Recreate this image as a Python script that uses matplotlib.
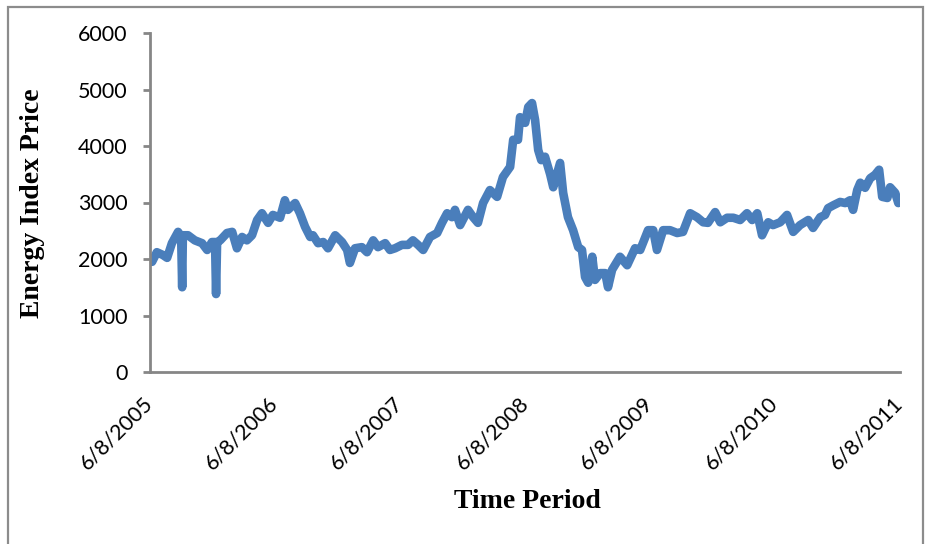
import matplotlib
matplotlib.use('Agg')
from matplotlib import pyplot as plt
from matplotlib.patches import Rectangle
import numpy as np
import pandas as pd

plt.rcParams['font.family'] = ['Lato', 'DejaVu Sans']

# energy index closing levels, read at roughly weekly steps
dates = [
    '2005-06-14', '2005-06-28', '2005-07-16', '2005-07-28', '2005-08-11', '2005-08-29',
    '2005-09-07', '2005-09-10', '2005-09-12', '2005-09-27', '2005-10-17', '2005-11-07',
    '2005-11-22', '2005-12-06', '2005-12-15', '2005-12-18', '2005-12-21', '2005-12-30',
    '2006-01-19', '2006-02-03', '2006-02-17', '2006-03-04', '2006-03-18', '2006-04-02',
    '2006-04-17', '2006-05-01', '2006-05-19', '2006-06-02', '2006-06-23', '2006-07-07',
    '2006-07-16', '2006-08-06', '2006-08-20', '2006-09-04', '2006-09-19', '2006-09-27',
    '2006-10-12', '2006-10-27', '2006-11-10', '2006-12-01', '2006-12-21', '2007-01-05',
    '2007-01-13', '2007-01-28', '2007-02-17', '2007-03-04', '2007-03-22', '2007-04-05',
    '2007-04-26', '2007-05-10', '2007-05-25', '2007-06-14', '2007-07-02', '2007-07-16',
    '2007-07-31', '2007-08-15', '2007-09-04', '2007-09-25', '2007-10-09', '2007-10-24',
    '2007-11-07', '2007-11-16', '2007-12-01', '2007-12-24', '2008-01-08', '2008-01-22',
    '2008-02-06', '2008-02-26', '2008-03-18', '2008-04-04', '2008-04-25', '2008-05-04',
    '2008-05-18', '2008-05-24', '2008-06-08', '2008-06-17', '2008-06-28', '2008-07-07',
    '2008-07-16', '2008-07-25', '2008-08-05', '2008-08-20', '2008-08-29', '2008-09-18',
    '2008-09-27', '2008-10-11', '2008-10-26', '2008-11-10', '2008-11-21', '2008-11-30',
    '2008-12-09', '2008-12-21', '2008-12-29', '2009-01-13', '2009-01-28', '2009-02-05',
    '2009-02-17', '2009-03-12', '2009-04-02', '2009-04-25', '2009-05-10', '2009-06-02',
    '2009-06-17', '2009-06-28', '2009-07-16', '2009-08-05', '2009-08-26', '2009-09-12',
    '2009-10-03', '2009-10-23', '2009-11-10', '2009-11-24', '2009-12-15', '2009-12-30',
    '2010-01-19', '2010-02-06', '2010-02-26', '2010-03-18', '2010-04-02', '2010-04-17',
    '2010-05-01', '2010-05-19', '2010-06-02', '2010-06-23', '2010-07-13', '2010-07-31',
    '2010-08-20', '2010-09-13', '2010-09-27', '2010-10-18', '2010-11-01', '2010-11-10',
    '2010-11-25', '2010-12-15', '2010-12-30', '2011-01-13', '2011-01-22', '2011-02-03',
    '2011-02-12', '2011-02-26', '2011-03-13', '2011-03-27', '2011-04-08', '2011-04-17',
    '2011-05-02', '2011-05-10', '2011-05-25', '2011-06-03',
]
prices = [
    1950, 2120, 2070, 2020, 2280, 2480,
    2400, 1500, 2420, 2420, 2330, 2280,
    2160, 2300, 2300, 1380, 2300, 2330,
    2460, 2480, 2190, 2390, 2330, 2420,
    2690, 2810, 2640, 2780, 2730, 3040,
    2870, 2990, 2810, 2570, 2390, 2420,
    2280, 2300, 2190, 2420, 2300, 2160,
    1930, 2190, 2210, 2120, 2330, 2210,
    2280, 2160, 2190, 2250, 2250, 2330,
    2250, 2160, 2390, 2460, 2640, 2810,
    2740, 2870, 2600, 2870, 2740, 2640,
    2990, 3220, 3100, 3450, 3630, 4110,
    4110, 4510, 4410, 4690, 4760, 4460,
    3930, 3750, 3810, 3500, 3270, 3700,
    3170, 2740, 2510, 2210, 2160, 1680,
    1580, 2040, 1630, 1750, 1750, 1500,
    1810, 2040, 1890, 2190, 2160, 2510,
    2510, 2160, 2510, 2510, 2460, 2480,
    2810, 2740, 2650, 2640, 2830, 2650,
    2730, 2730, 2690, 2810, 2690, 2810,
    2420, 2650, 2600, 2650, 2780, 2480,
    2600, 2690, 2550, 2740, 2780, 2900,
    2950, 3010, 2990, 3040, 2870, 3220,
    3350, 3260, 3430, 3490, 3580, 3100,
    3080, 3270, 3170, 2990,
]

tick_dates = ['2005-06-08', '2006-06-08', '2007-06-08', '2008-06-08',
              '2009-06-08', '2010-06-08', '2011-06-08']
tick_labels = ['6/8/2005', '6/8/2006', '6/8/2007', '6/8/2008',
               '6/8/2009', '6/8/2010', '6/8/2011']
y_ticks = [0, 1000, 2000, 3000, 4000, 5000, 6000]

x = pd.to_datetime(dates)
ticks = pd.to_datetime(tick_dates)

fig = plt.figure(figsize=(9.38, 5.44), dpi=100)
ax = fig.add_axes([150 / 938, 1 - 372 / 544, 750 / 938, 339 / 544])

ax.plot(x, prices, color='#4a7ebb', lw=6.2, solid_capstyle='round',
        solid_joinstyle='round')

ax.set_xlim(ticks[0], ticks[-1])
ax.set_ylim(0, 6000)
ax.set_yticks(y_ticks)
ax.set_xticks(ticks)
ax.set_xticklabels(tick_labels, rotation=45, ha='right', va='center',
                   rotation_mode='anchor')

for side in ['top', 'right']:
    ax.spines[side].set_visible(False)
for side in ['left', 'bottom']:
    ax.spines[side].set_color('#868686')
    ax.spines[side].set_linewidth(2.0)

ax.tick_params(axis='y', direction='out', length=5, width=2.0, color='#868686',
               labelsize=15.5, pad=11)
ax.tick_params(axis='x', length=0, labelsize=15.5, pad=20)

fig.text(33 / 938, 1 - 203 / 544, 'Energy Index Price', rotation=90,
         ha='center', va='center', fontsize=20, fontweight='bold',
         family='Liberation Serif')
fig.text(527 / 938, 1 - 502 / 544, 'Time Period', ha='center', va='center',
         fontsize=20, fontweight='bold', family='Liberation Serif')

# outer chart border
fig.patches.append(Rectangle((7.5 / 938, -0.02), 915 / 938, 1.02 - 7.5 / 544,
                             transform=fig.transFigure, fill=False,
                             edgecolor='#8c8c8c', lw=1.6))

fig.savefig('out.png', dpi=100)
